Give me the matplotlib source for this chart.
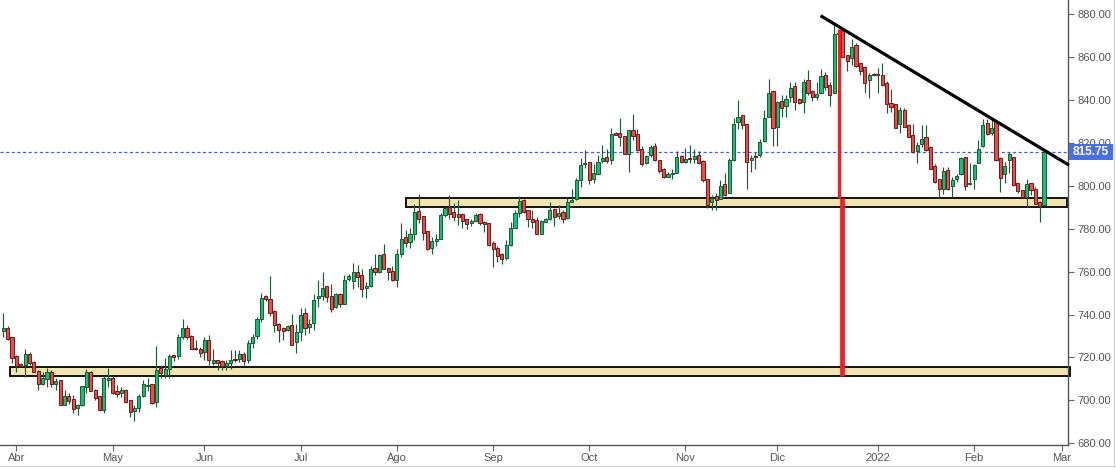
import matplotlib
matplotlib.use('Agg')
import matplotlib.pyplot as plt
from matplotlib.patches import Rectangle
from matplotlib.lines import Line2D
from matplotlib.transforms import Bbox, TransformedBbox
import numpy as np

# ---------------- data ----------------
opens = [732.4, 733.9, 729.3, 720.6, 716.8, 716.4, 721.5, 717.8, 713.7, 707.8,
         710.0, 713.1, 707.8, 709.4, 698.0, 702.2, 700.5, 696.6, 697.9, 706.3,
         713.3, 704.7, 701.9, 695.7, 709.4, 710.6, 704.3, 703.5, 705.0, 700.0,
         694.9, 696.6, 702.1, 706.9, 707.5, 699.3, 715.1, 711.7, 714.8, 721.0,
         720.7, 729.6, 733.9, 729.9, 724.6, 724.1, 722.6, 728.3, 717.6, 718.7,
         718.4, 716.0, 717.5, 719.5, 719.5, 721.8, 718.7, 726.8, 730.2, 738.1,
         748.5, 747.4, 741.5, 735.8, 733.9, 732.7, 735.0, 727.1, 731.9, 740.5,
         734.2, 736.1, 747.7, 748.5, 753.2, 748.5, 743.6, 749.5, 745.1, 756.6,
         755.7, 760.0, 758.2, 752.3, 753.4, 761.9, 760.0, 768.0, 761.9, 760.2,
         756.3, 768.4, 775.9, 774.0, 777.7, 788.0, 785.8, 778.8, 771.1, 774.3,
         775.4, 786.4, 790.0, 787.7, 786.8, 786.8, 784.3, 782.4, 783.7, 786.6,
         783.0, 782.7, 773.1, 771.2, 768.1, 766.4, 772.5, 780.5, 787.4, 793.3,
         788.5, 784.7, 784.0, 777.7, 783.2, 784.3, 789.0, 786.0, 787.7, 785.1,
         792.5, 793.6, 802.6, 810.0, 811.0, 803.2, 805.6, 811.3, 813.3, 812.2,
         824.6, 824.6, 823.1, 815.0, 825.9, 824.1, 817.1, 810.4, 814.3, 818.5,
         811.9, 808.0, 804.2, 805.4, 806.0, 813.8, 811.2, 812.7, 812.6, 814.1,
         811.5, 803.1, 792.4, 795.2, 793.9, 800.7, 796.7, 811.9, 829.8, 832.8,
         828.6, 812.2, 813.8, 814.1, 820.9, 832.1, 844.1, 827.5, 839.4, 837.3,
         841.1, 846.4, 840.2, 839.1, 849.2, 844.1, 841.5, 843.3, 851.6, 846.9,
         843.3, 871.3, 872.5, 860.9, 859.3, 865.5, 857.0, 855.1, 849.2, 851.9,
         851.9, 851.6, 847.7, 838.4, 837.9, 828.6, 835.5, 828.1, 823.6, 816.3,
         819.4, 822.5, 818.1, 809.3, 802.9, 798.7, 807.3, 799.8, 802.9, 805.3,
         813.2, 800.6, 802.9, 810.8, 818.6, 829.0, 824.7, 829.8, 812.7, 805.3,
         811.9, 813.2, 801.1, 797.9, 794.8, 801.1, 798.7, 792.5, 791.0]
highs = [740.5, 734.5, 729.5, 721.0, 717.2, 723.7, 722.4, 718.2, 714.0, 713.3,
         715.3, 714.0, 710.6, 709.6, 704.7, 703.5, 702.4, 698.5, 706.8, 714.8,
         713.7, 705.5, 702.2, 711.2, 715.3, 711.2, 707.0, 706.3, 705.5, 700.3,
         698.0, 703.2, 709.4, 710.6, 707.8, 725.2, 716.7, 719.8, 721.5, 721.1,
         731.1, 738.1, 735.0, 730.3, 728.0, 724.9, 729.6, 730.3, 723.7, 718.8,
         718.6, 718.7, 723.4, 723.4, 723.4, 722.6, 728.0, 730.8, 738.9, 749.8,
         749.0, 757.9, 742.0, 736.0, 734.2, 735.0, 740.1, 735.5, 742.8, 743.2,
         738.1, 749.5, 756.3, 759.7, 753.4, 754.1, 750.1, 750.1, 758.3, 759.1,
         764.1, 763.0, 761.4, 755.2, 762.5, 768.1, 768.1, 772.8, 762.2, 762.5,
         770.4, 782.4, 779.6, 780.5, 791.3, 796.1, 786.0, 779.0, 776.2, 777.4,
         787.1, 790.2, 795.6, 791.9, 793.3, 787.4, 784.5, 784.3, 787.1, 787.4,
         783.7, 782.8, 774.2, 771.8, 768.7, 774.6, 783.2, 788.9, 795.3, 793.6,
         788.9, 788.6, 785.5, 784.0, 785.0, 792.2, 789.4, 790.9, 788.9, 794.1,
         798.7, 803.4, 812.7, 816.6, 811.2, 810.1, 814.3, 818.9, 816.9, 826.7,
         824.8, 831.4, 823.3, 826.1, 833.4, 826.2, 818.5, 814.3, 818.9, 820.0,
         812.0, 808.2, 806.5, 808.0, 816.3, 814.3, 817.4, 818.9, 816.9, 816.3,
         811.9, 803.2, 795.5, 796.4, 802.6, 806.0, 812.7, 831.4, 839.9, 832.9,
         828.8, 814.3, 815.8, 821.7, 835.2, 849.5, 844.3, 839.6, 842.2, 842.2,
         848.4, 848.4, 840.7, 849.5, 853.9, 844.6, 848.5, 854.2, 853.1, 848.5,
         875.3, 871.5, 873.3, 861.0, 868.2, 866.3, 857.8, 855.8, 852.3, 852.3,
         854.7, 857.3, 848.9, 844.9, 838.0, 836.5, 836.0, 828.6, 828.7, 820.2,
         828.3, 828.3, 818.5, 810.1, 803.0, 808.5, 808.5, 804.2, 805.4, 813.5,
         813.3, 810.4, 810.1, 821.3, 830.9, 830.9, 830.9, 830.3, 813.2, 811.1,
         815.8, 813.5, 801.4, 798.0, 802.9, 801.4, 799.2, 793.0, 816.6]
lows = [729.6, 728.0, 717.5, 713.3, 715.8, 711.0, 716.4, 713.2, 705.0, 707.0,
        706.0, 706.3, 704.7, 697.8, 697.7, 698.5, 694.1, 693.1, 697.3, 703.6,
        704.2, 700.0, 695.4, 694.1, 706.0, 703.0, 701.6, 701.6, 698.8, 692.3,
        690.4, 694.6, 701.6, 704.4, 698.5, 696.9, 710.5, 710.5, 710.5, 718.2,
        719.5, 728.8, 728.8, 723.8, 723.4, 720.3, 718.7, 716.4, 716.4, 714.0,
        714.0, 714.0, 714.8, 718.0, 718.0, 716.4, 717.2, 724.6, 728.8, 736.6,
        746.4, 739.2, 731.9, 727.2, 728.0, 732.5, 725.7, 722.1, 727.7, 730.4,
        731.4, 732.7, 743.3, 746.7, 745.9, 741.1, 742.8, 743.6, 744.8, 755.7,
        752.1, 752.6, 748.2, 747.8, 752.6, 758.3, 759.4, 761.0, 756.3, 755.7,
        752.9, 766.6, 771.5, 770.9, 774.6, 782.4, 774.6, 770.0, 768.4, 771.8,
        775.1, 785.5, 784.3, 783.7, 781.6, 780.5, 779.8, 781.3, 783.0, 781.6,
        778.5, 771.8, 762.2, 764.5, 763.3, 765.3, 771.8, 780.1, 785.5, 787.4,
        780.9, 780.5, 777.4, 777.4, 782.9, 784.0, 781.2, 784.7, 782.4, 784.7,
        792.2, 793.3, 799.2, 808.1, 800.6, 801.4, 805.4, 810.4, 810.4, 810.1,
        823.6, 818.5, 814.7, 806.5, 821.3, 816.3, 809.4, 810.1, 813.5, 811.6,
        806.0, 803.7, 803.9, 803.2, 805.7, 810.4, 810.8, 810.4, 810.4, 810.1,
        801.8, 789.4, 788.9, 788.9, 793.6, 795.2, 796.4, 811.6, 826.2, 826.2,
        798.3, 806.5, 808.0, 813.5, 820.6, 831.8, 818.5, 818.5, 832.1, 832.1,
        839.1, 835.3, 838.0, 834.0, 842.2, 839.6, 839.9, 843.0, 844.6, 837.1,
        843.0, 870.5, 860.0, 853.6, 856.2, 855.5, 851.6, 843.3, 840.7, 851.1,
        843.0, 846.4, 833.7, 834.5, 826.7, 824.7, 827.2, 822.5, 815.3, 810.7,
        818.2, 816.3, 807.7, 801.4, 794.1, 796.0, 797.9, 794.8, 801.8, 805.0,
        797.9, 800.3, 798.3, 810.4, 818.1, 823.6, 823.6, 811.6, 797.2, 801.4,
        805.7, 799.8, 796.4, 794.5, 790.2, 795.6, 791.4, 783.2, 790.5]
closes = [733.5, 728.8, 719.9, 716.2, 716.2, 721.5, 717.5, 713.4, 707.8, 710.2,
          713.1, 707.8, 708.9, 698.0, 702.2, 699.7, 696.0, 697.7, 706.6, 713.1,
          704.4, 701.3, 695.7, 710.6, 710.6, 703.5, 703.0, 704.7, 699.3, 694.6,
          696.5, 701.9, 707.5, 707.1, 698.8, 714.3, 712.8, 714.5, 720.6, 720.3,
          729.6, 733.5, 729.3, 724.1, 723.7, 722.3, 728.0, 718.7, 718.7, 717.6,
          715.9, 717.6, 719.0, 718.7, 721.5, 718.4, 726.5, 729.3, 737.7, 747.9,
          747.0, 740.8, 735.3, 732.7, 732.4, 734.5, 726.0, 731.7, 739.7, 733.5,
          735.5, 746.7, 748.7, 752.3, 748.2, 742.6, 749.5, 744.7, 756.3, 757.9,
          759.7, 757.5, 752.1, 753.2, 761.4, 759.6, 767.5, 761.4, 759.6, 756.0,
          768.1, 775.4, 773.4, 777.4, 787.7, 784.6, 778.2, 770.6, 774.2, 775.4,
          786.3, 789.6, 786.8, 785.5, 785.5, 783.7, 782.0, 783.5, 786.3, 782.4,
          782.0, 772.5, 770.6, 767.3, 766.0, 772.3, 780.1, 787.1, 792.7, 787.8,
          784.6, 783.2, 777.7, 783.5, 784.4, 788.5, 785.5, 787.2, 784.6, 792.4,
          793.3, 802.6, 809.6, 810.5, 802.8, 805.9, 811.0, 812.7, 811.6, 824.1,
          823.8, 822.8, 815.0, 825.9, 823.3, 816.6, 810.2, 813.9, 818.0, 811.9,
          807.0, 803.9, 805.4, 806.0, 813.2, 811.2, 812.4, 812.4, 813.8, 810.7,
          802.5, 791.1, 794.5, 793.3, 800.1, 795.6, 811.9, 828.7, 831.8, 828.3,
          811.2, 812.7, 813.5, 820.2, 831.4, 843.0, 826.7, 839.0, 836.0, 840.2,
          845.3, 839.1, 838.4, 848.3, 843.0, 841.2, 842.7, 851.1, 845.8, 842.1,
          870.7, 870.7, 860.1, 858.2, 864.5, 855.8, 853.6, 848.0, 851.6, 851.4,
          851.4, 846.8, 837.9, 836.8, 827.0, 835.2, 827.5, 822.8, 815.5, 818.9,
          821.6, 816.6, 808.0, 801.8, 798.4, 807.0, 798.7, 802.6, 804.5, 812.7,
          799.8, 801.4, 809.6, 817.3, 828.3, 823.9, 826.7, 811.9, 803.4, 809.1,
          814.6, 800.3, 797.5, 794.8, 800.6, 797.9, 791.7, 790.6, 815.75]

month_labels = ['Abr', 'May', 'Jun', 'Jul', 'Ago', 'Sep', 'Oct', 'Nov', 'Dic',
                '2022', 'Feb', 'Mar']
month_start_idx = [3, 25, 46, 68, 90, 112, 134, 156, 177, 200, 222, 242]
price_ticks = [680, 700, 720, 740, 760, 780, 800, 820, 840, 860, 880]
last_price = 815.75

zone_low = [711.35, 790.15]
zone_high = [715.55, 794.45]
zone_start_idx = [1.5, 92.1]
trend_idx = [186.9, 243.7]
trend_price = [879.2, 809.6]
red1_idx, red1_prices = 191.0, [794.5, 873.0]
red2_idx, red2_prices = 191.9, [711.35, 794.3]

# ---------------- figure ----------------
plt.rcParams['font.family'] = ['Liberation Sans', 'DejaVu Sans']
W, H = 1116, 468
fig = plt.figure(figsize=(W / 100, H / 100), dpi=100)
ax_right_px, ax_bottom_px = 1068, 445
ax = fig.add_axes([0, 1 - ax_bottom_px / H, ax_right_px / W, ax_bottom_px / H])

step = 4.373
x0_px = 3.3
ax.set_xlim((0 - x0_px) / step, (ax_right_px - x0_px) / step)
ppu = 2.1465
ax.set_ylim(880 - (ax_bottom_px - 14) / ppu, 880 + 14 / ppu)

o = np.array(opens); h = np.array(highs); l = np.array(lows); c = np.array(closes)
x = np.arange(len(c))
up = c >= o

wick_col = '#1f5a34'
g_fill, g_edge = '#10c177', '#1b5a30'
r_fill, r_edge = '#f04a47', '#6a1c1c'

ax.vlines(x, l, h, color=wick_col, lw=0.85, zorder=3)
body_lo = np.minimum(o, c)
body_h = np.maximum(np.abs(c - o), 0.4)
ax.bar(x[up], body_h[up], bottom=body_lo[up], width=0.72, color=g_fill,
       edgecolor=g_edge, linewidth=0.7, zorder=4)
ax.bar(x[~up], body_h[~up], bottom=body_lo[~up], width=0.72, color=r_fill,
       edgecolor=r_edge, linewidth=0.7, zorder=4)

xmax = ax.get_xlim()[1]
zone_end = [xmax + 0.35, xmax - 0.25]
for lo, hi, s, e in zip(zone_low, zone_high, zone_start_idx, zone_end):
    ax.add_patch(Rectangle((s, lo), e - s, hi - lo, facecolor='#f0e4b2',
                           edgecolor='black', lw=1.3, zorder=1, clip_on=False))

ax.axhline(last_price, color='#3f62d6', lw=0.9, ls=(0, (2.5, 2)), zorder=2)

ax.plot(trend_idx, trend_price, color='black', lw=2.3, zorder=6,
        solid_capstyle='butt', clip_on=False)
ax.plot([red1_idx, red1_idx], red1_prices, color='#ee2026', lw=2.3, zorder=7,
        solid_capstyle='butt')
ax.plot([red2_idx, red2_idx], red2_prices, color='#ee2026', lw=3.4, zorder=7,
        solid_capstyle='butt')

# axes styling
for s in ['left', 'top']:
    ax.spines[s].set_visible(False)
for s in ['right', 'bottom']:
    ax.spines[s].set_color('#555555')
    ax.spines[s].set_linewidth(1.0)
ax.yaxis.tick_right()
ax.set_yticks(price_ticks, [f'{v:.2f}' for v in price_ticks])
ax.set_xticks(month_start_idx, month_labels)
ax.tick_params(axis='y', direction='out', length=4, width=0.8, color='#666666',
               labelsize=8, labelcolor='#555555', pad=2.5)
ax.tick_params(axis='x', direction='out', length=4, width=0.8, color='#666666',
               labelsize=8, labelcolor='#555555', pad=2)

# last price label
lab_x0, lab_x1 = 1069, 1113
lab_y0, lab_y1 = 143.5, 160
fig.add_artist(Rectangle((lab_x0 / W, 1 - lab_y1 / H), (lab_x1 - lab_x0) / W,
                         (lab_y1 - lab_y0) / H, transform=fig.transFigure,
                         facecolor='#4870e4', edgecolor='none', zorder=10))
fig.text((lab_x0 + lab_x1) / 2 / W, 1 - (lab_y0 + lab_y1) / 2 / H, f'{last_price:.2f}',
         color='white', fontsize=8.5, fontweight='bold', ha='center', va='center',
         zorder=11)

# outer light frame
fig.add_artist(Line2D([1113.5 / W] * 2, [1 - 465.5 / H, 1], color='#d6d6d6', lw=1))
fig.add_artist(Line2D([0, 1113.5 / W], [1 - 465.5 / H] * 2, color='#d6d6d6', lw=1))

# clip price labels at the time axis
fig.canvas.draw()
clip = TransformedBbox(Bbox([[ax_right_px / W, 1 - 447 / H], [1, 1]]), fig.transFigure)
for t in ax.get_yticklabels():
    t.set_clip_box(clip)
    t.set_clip_on(True)

fig.savefig('out.png', dpi=100)
